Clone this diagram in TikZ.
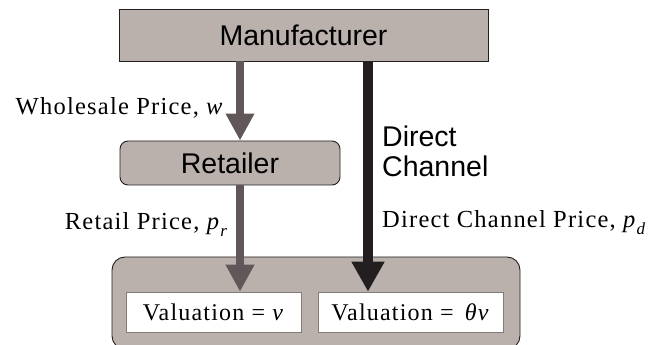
\documentclass[tikz,border=0pt]{standalone}
\usepackage{fontspec}
\usetikzlibrary{arrows.meta}
\setmainfont{Liberation Serif}
\newfontfamily\sansf{Liberation Sans}
\newfontfamily\serift[LetterSpace=5]{Liberation Serif}
\definecolor{boxfill}{RGB}{186,177,172}
\definecolor{arrL}{RGB}{98,87,88}
\definecolor{arrD}{RGB}{35,31,32}
\newcommand{\subi}[1]{\raisebox{-0.28em}{\fontsize{17}{17}\selectfont\textit{#1}}}
\tikzset{
  graybox/.style={draw=arrD, line width=0.9pt, fill=boxfill, inner sep=0pt},
  whitebox/.style={draw=boxfill!70!black, line width=0.6pt, fill=white, inner sep=0pt},
  sanslabel/.style={font=\sansf\fontsize{28.5}{30}\selectfont, inner sep=0pt},
  seriflabel/.style={font=\serift\fontsize{24.5}{26}\selectfont, inner sep=0pt},
  arrowL/.style={draw=arrL, line width=8pt, -{Triangle[width=27pt,length=27pt]}, arrL},
  arrowD/.style={draw=arrD, line width=10pt, -{Triangle[width=31pt,length=30pt]}, arrD},
}
\begin{document}
\begin{tikzpicture}[x=1pt,y=1pt]
\useasboundingbox (0,0) rectangle (661,345);
\clip (0,0) rectangle (661,345);
% boxes
\node[graybox, minimum width=369pt, minimum height=52pt] (mfr) at (303.5,310) {};
\node[sanslabel] at (mfr.center) {Manufacturer};
\node[graybox, rounded corners=8pt, minimum width=220pt, minimum height=44pt] (ret) at (230,182) {};
\node[sanslabel] at (ret.center) {Retailer};
\node[graybox, rounded corners=13pt, minimum width=408pt, minimum height=92pt] (cons) at (316,42) {};
\node[whitebox, minimum width=175pt, minimum height=40pt, font=\serift\fontsize{24}{26}\selectfont] (vl) at (213.5,33) {Valuation = \textit{v}};
\node[whitebox, minimum width=185pt, minimum height=40pt, font=\serift\fontsize{24}{26}\selectfont] (vr) at (410.5,33) {Valuation = \,\textit{θv}};
% arrow columns
\coordinate (ax) at (240,0);
\coordinate (dx) at (368,0);
\draw[arrowL] (mfr.south -| ax) -- (ret.north -| ax);
\draw[arrowL] (ret.south -| ax) -- (vl.north -| ax);
\draw[arrowD] (mfr.south -| dx) -- (vr.north -| dx);
% labels
\node[seriflabel, anchor=base east] (lw) at (224,230) {Wholesale Price, \textit{w}};
\node[seriflabel, anchor=base east] (lr) at (228,115) {Retail Price, \textit{p}\subi{r}};
\node[seriflabel, anchor=base west] (ld) at (382,117) {Direct Channel Price, \textit{p}\subi{d}};
\node[sanslabel, anchor=base west, align=left] (dc) at (382,168) {Direct\\Channel};
\end{tikzpicture}
\end{document}
